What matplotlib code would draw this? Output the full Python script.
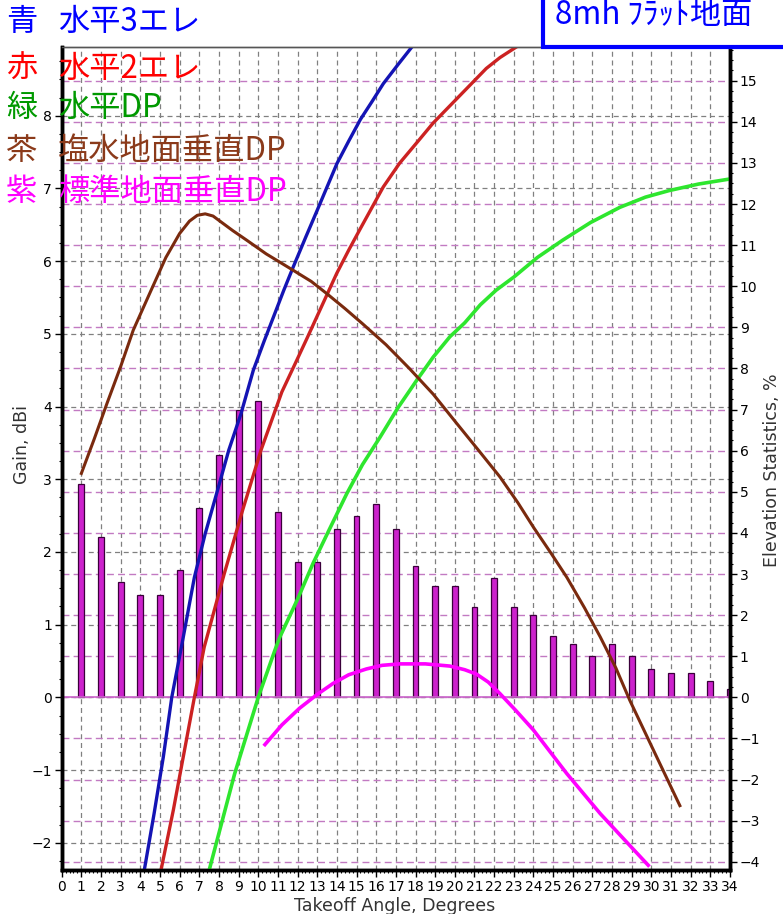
import numpy as np
import matplotlib
matplotlib.use("Agg")
import matplotlib.pyplot as plt
import matplotlib.font_manager as fm
from matplotlib.patches import Rectangle
from matplotlib.ticker import MultipleLocator
from matplotlib.transforms import blended_transform_factory

plt.rcParams['font.family'] = ['Noto Sans CJK JP', 'DejaVu Sans']

# elevation statistics (%), one bar per degree
angles = np.arange(1, 35)
stats = [5.2, 3.9, 2.8, 2.5, 2.5, 3.1, 4.6, 5.9, 7.0, 7.2, 4.5, 3.3, 3.3, 4.1, 4.4, 4.7, 4.1,
         3.2, 2.7, 2.7, 2.2, 2.9, 2.2, 2.0, 1.5, 1.3, 1.0, 1.3, 1.0, 0.7, 0.6, 0.6, 0.4, 0.2]

# gain curves (dBi)
blue_ang = [4.2, 4.7, 5.17, 5.6, 6.2, 6.75, 7.3, 7.93, 8.5, 9.12, 9.75, 10.3, 10.8, 11.3, 11.78,
            12.4, 13.0, 13.5, 14.0, 14.6, 15.2, 15.8, 16.36, 17.1, 17.8]
blue_gain = [-2.38, -1.6, -0.82, 0.0, 0.85, 1.65, 2.25, 2.85, 3.4, 3.9, 4.5, 4.9, 5.25, 5.6, 5.92,
             6.32, 6.7, 7.02, 7.34, 7.65, 7.95, 8.2, 8.44, 8.7, 8.94]

red_ang = [5.05, 5.68, 6.75, 7.25, 8.27, 9.2, 10.14, 11.2, 12.0, 12.5, 13.99, 14.6, 15.2, 16.36,
           17.2, 18.1, 18.9, 19.8, 20.7, 21.6, 22.3, 23.1]
red_gain = [-2.38, -1.55, 0.0, 0.69, 1.7, 2.57, 3.4, 4.2, 4.66, 4.95, 5.83, 6.15, 6.45, 7.02,
            7.35, 7.64, 7.9, 8.15, 8.4, 8.65, 8.8, 8.94]

green_ang = [7.5, 8.8, 10.0, 10.85, 11.1, 12.0, 12.8, 13.6, 14.5, 15.3, 16.2, 17.1, 18.06, 18.9,
             19.75, 20.5, 21.3, 22.1, 23.0, 24.2, 25.5, 26.9, 28.4, 29.7, 30.9, 32.4, 34.0]
green_gain = [-2.38, -1.05, 0.0, 0.65, 0.83, 1.35, 1.85, 2.3, 2.8, 3.2, 3.58, 3.98, 4.36, 4.68,
              4.96, 5.15, 5.4, 5.6, 5.78, 6.05, 6.29, 6.53, 6.74, 6.88, 6.97, 7.06, 7.13]

brown_ang = [1.0, 1.65, 2.3, 3.0, 3.64, 4.5, 5.3, 6.0, 6.5, 6.9, 7.3, 7.7, 8.05, 8.7, 9.4, 10.4,
             11.8, 12.7, 13.5, 14.4, 15.3, 16.5, 17.7, 18.9, 20.0, 21.2, 22.3, 23.2, 24.0, 24.9,
             25.7, 26.6, 27.4, 28.2, 28.9, 30.2, 31.45]
brown_gain = [3.08, 3.55, 4.04, 4.55, 5.05, 5.57, 6.05, 6.38, 6.55, 6.63, 6.65, 6.62, 6.55, 6.42,
              6.29, 6.1, 5.87, 5.72, 5.55, 5.35, 5.14, 4.85, 4.52, 4.17, 3.8, 3.4, 3.03, 2.68,
              2.34, 1.98, 1.65, 1.23, 0.83, 0.4, -0.04, -0.78, -1.49]

pink_ang = [10.34, 11.2, 12.1, 13.0, 13.8, 14.6, 15.5, 16.3, 17.2, 18.5, 19.75, 20.5, 21.1, 21.7,
            22.3, 23.1, 24.0, 25.7, 27.4, 28.6, 29.84]
pink_gain = [-0.65, -0.38, -0.15, 0.04, 0.19, 0.31, 0.39, 0.44, 0.46, 0.46, 0.43, 0.38, 0.32, 0.21,
             0.05, -0.18, -0.45, -1.05, -1.6, -1.95, -2.31]

legend_keys = ['青', '赤', '緑', '茶', '紫']
legend_names = ['水平3エレ', '水平2エレ', '水平DP', '塩水地面垂直DP', '標準地面垂直DP']
legend_colors = ['#0000ff', '#ff0000', '#009900', '#8b3a1a', '#ff00ff']
title = '8mh ﾌﾗｯﾄ地面'

names = {f.name for f in fm.fontManager.ttflist}
tickfont = 'Liberation Sans Narrow' if 'Liberation Sans Narrow' in names else 'DejaVu Sans'

W, H = 783, 914
fig = plt.figure(figsize=(W / 100, H / 100), dpi=100)
ax = fig.add_axes([61.7 / W, 1 - 870 / H, (730 - 61.7) / W, (870 - 47) / H])
ax.set_xlim(0, 34)
ax.set_ylim(-4.20, 15.82)
ax2 = ax.twinx()
ax2.set_ylim(-2.375, 8.945)
ax.yaxis.tick_right()
ax2.yaxis.tick_left()

# grids
ax.set_xticks(range(0, 35))
ax.set_yticks(range(-4, 16))
ax.set_axisbelow(True)
ax.grid(axis='x', color='#808080', ls=(0, (4, 3)), lw=0.9)
ax.grid(axis='y', color='#c27ac2', ls=(0, (5, 3)), lw=1.0)
tr = blended_transform_factory(ax.transAxes, ax2.transData)
for g in range(-2, 9):
    ax.plot([0, 1], [g, g], transform=tr, color='#808080', ls=(0, (4, 3)), lw=0.9, zorder=0.6)

# bars
ax.bar(angles, stats, width=0.3, color='#cc22cc', edgecolor='#3a003a', lw=0.9, zorder=2)
ax.axhline(0, color='#cc66cc', lw=1.2, zorder=2.5)

# gain curves
ax2.plot(pink_ang, pink_gain, color='#ff00ff', lw=2.6, solid_joinstyle='round')
ax2.plot(green_ang, green_gain, color='#2ee62e', lw=2.6, solid_joinstyle='round')
ax2.plot(red_ang, red_gain, color='#cc2222', lw=2.4, solid_joinstyle='round')
ax2.plot(blue_ang, blue_gain, color='#1414b4', lw=2.4, solid_joinstyle='round')
ax2.plot(brown_ang, brown_gain, color='#7a2a0e', lw=2.2, solid_joinstyle='round')

# ticks
ax2.set_yticks(range(-2, 9))
ax.xaxis.set_minor_locator(MultipleLocator(0.2))
ax.yaxis.set_minor_locator(MultipleLocator(0.25))
ax2.yaxis.set_minor_locator(MultipleLocator(0.25))
for a in (ax, ax2):
    a.tick_params(which='major', direction='out', length=5, width=1, labelsize=10, pad=2)
    a.tick_params(which='minor', direction='out', length=2, width=0.8)
    for t in a.get_xticklabels() + a.get_yticklabels():
        t.set_family(tickfont)
    for side in ('left', 'right', 'bottom'):
        a.spines[side].set_linewidth(2.5)
        a.spines[side].set_color('black')
    a.spines['top'].set_linewidth(1)
    a.spines['top'].set_color('#555555')

# axis labels
fig.text(22 / W, 1 - 445 / H, 'Gain, dBi', rotation=90, ha='center', va='center',
         fontsize=12.5, color='#333333', family='DejaVu Sans')
fig.text(772 / W, 1 - 470 / H, 'Elevation Statistics, %', rotation=90, ha='center', va='center',
         fontsize=12.5, color='#333333', family='DejaVu Sans')
fig.text(395 / W, 1 - 906 / H, 'Takeoff Angle, Degrees', ha='center', va='center',
         fontsize=12.5, color='#333333', family='DejaVu Sans')

# colour legend at top left
legend_y = [22, 69, 108, 151, 192]
for key, name, col, y in zip(legend_keys, legend_names, legend_colors, legend_y):
    fig.text(6 / W, 1 - y / H, key, color=col, fontsize=22.5, va='center', ha='left')
    fig.text(58 / W, 1 - y / H, name, color=col, fontsize=22.5, va='center', ha='left')

# title box
fig.add_artist(Rectangle((543 / W, 1 - 47 / H), 0.5, 0.2, transform=fig.transFigure,
                         facecolor='white', edgecolor='#0000ff', lw=3, zorder=5))
fig.text(555 / W, 1 - 15 / H, title, color='#0000ff', fontsize=22.5, va='center', ha='left', zorder=6)

fig.savefig('out.png', dpi=100)
